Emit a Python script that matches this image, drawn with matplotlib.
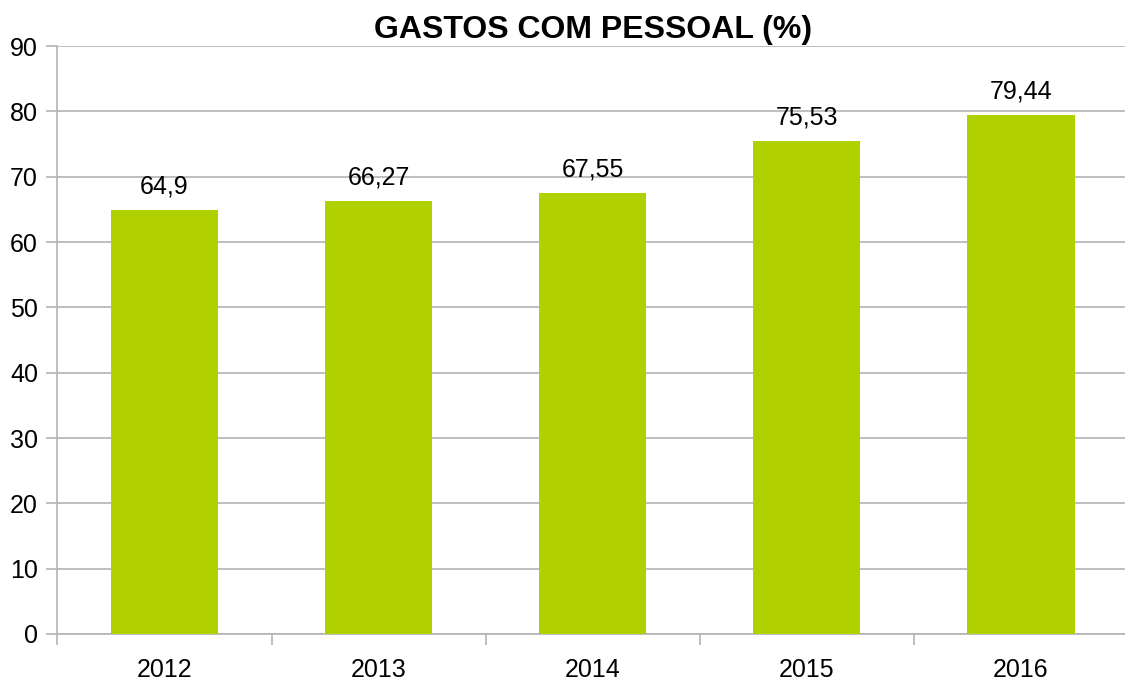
import matplotlib
matplotlib.use('Agg')
import matplotlib.pyplot as plt
import numpy as np

plt.rcParams['font.family'] = ['Liberation Sans', 'DejaVu Sans']

anos = ['2012', '2013', '2014', '2015', '2016']
gastos = [64.9, 66.27, 67.55, 75.53, 79.44]
rotulos = ['64,9', '66,27', '67,55', '75,53', '79,44']

fig = plt.figure(figsize=(11.25, 6.84), dpi=100)
ax = fig.add_axes([0.0511, 0.0731, 0.9516, 0.8596])

x = np.arange(len(anos))
bars = ax.bar(x, gastos, width=0.5, color='#b0d000', zorder=3)
for b, lab in zip(bars, rotulos):
    ax.annotate(lab, (b.get_x() + b.get_width() / 2, b.get_height()),
                xytext=(0, 8), textcoords='offset points',
                ha='center', va='bottom', fontsize=18)

ax.set_xlim(-0.5, len(anos) - 0.5)
ax.set_ylim(0, 90)
ax.set_yticks(range(0, 91, 10))
ax.set_xticks(x)
ax.set_xticklabels(anos)
ax.set_xticks(np.arange(-0.5, len(anos), 1), minor=True)
ax.tick_params(axis='x', which='major', length=0, pad=17, labelsize=18)
ax.tick_params(axis='x', which='minor', length=8, color='#b3b3b3', width=1.2)
ax.tick_params(axis='y', length=8, color='#b3b3b3', width=1.2, pad=6, labelsize=18)
ax.grid(axis='y', color='#b3b3b3', linewidth=1.2, zorder=0)

for s in ['top', 'right']:
    ax.spines[s].set_visible(False)
for s in ['left', 'bottom']:
    ax.spines[s].set_color('#b3b3b3')
    ax.spines[s].set_linewidth(1.2)

ax.set_title('GASTOS COM PESSOAL (%)', fontsize=23, fontweight='bold', pad=6)

fig.savefig('out.png', dpi=100)
